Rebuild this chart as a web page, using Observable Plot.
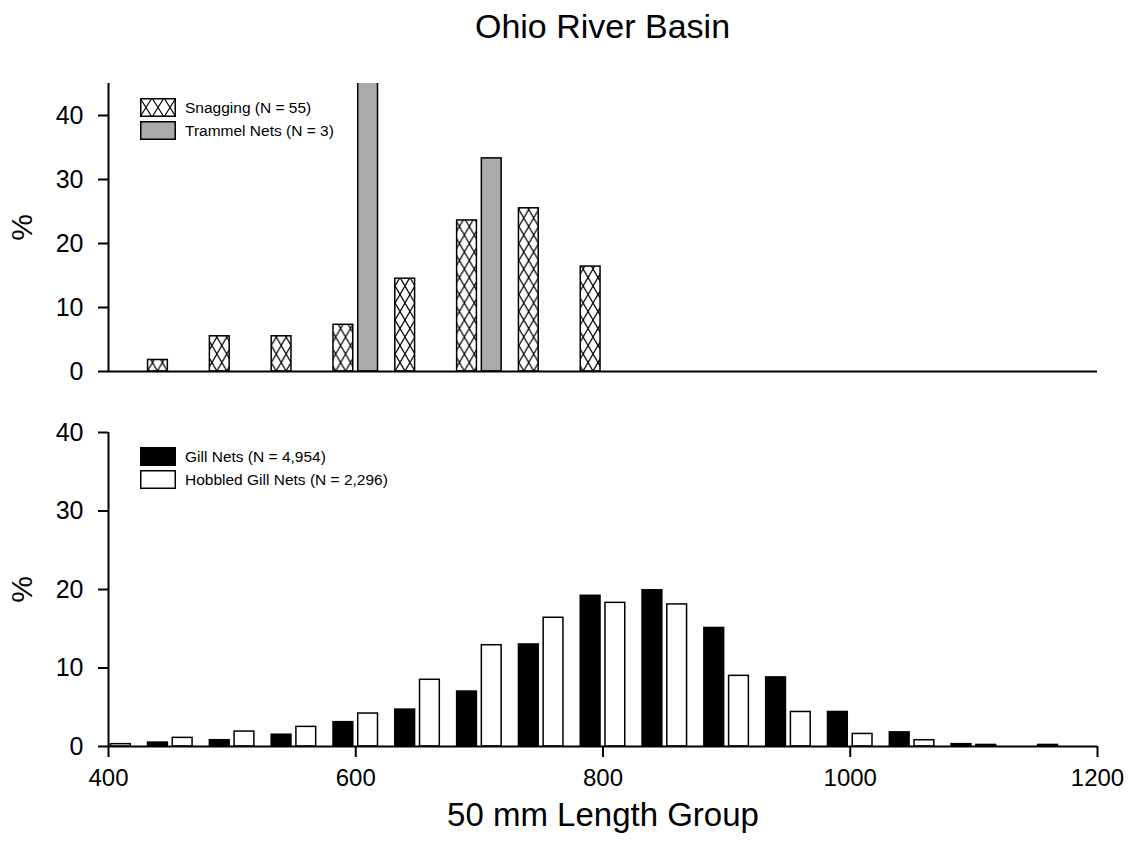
<!DOCTYPE html>
<html>
<head>
<meta charset="utf-8">
<script src="https://cdn.jsdelivr.net/npm/d3@7"></script>
<script src="https://cdn.jsdelivr.net/npm/@observablehq/plot@0.6"></script>
<style>
  html, body { margin: 0; padding: 0; background: white; }
  #wrap { position: relative; width: 1133px; height: 853px; font-family: "Liberation Sans", Arial, sans-serif; color: black; }
  #wrap > svg { position: absolute; left: 0; overflow: visible; }
  #title { position: absolute; left: 108px; width: 989px; top: 9px; text-align: center; font-size: 34px; line-height: 34px; }
  .leg { position: absolute; left: 140px; font-size: 15.5px; line-height: 19px; }
  .leg .row { display: flex; align-items: center; height: 19px; margin-bottom: 4px; }
  .leg .row svg { position: static; margin-right: 9px; }
  g[aria-label="y-axis label"] text { font-size: 30px; }
  g[aria-label="x-axis label"] text { font-size: 33px; }
</style>
</head>
<body>
<div id="wrap">
  <div id="title">Ohio River Basin</div>
</div>
<script>
// ---- data ----
const xDomain = [400, 1200];
const xTicks = [400, 600, 800, 1000, 1200];
const yTicksTop = [0, 10, 20, 30, 40];
const yTicksBottom = [0, 10, 20, 30, 40];

// top panel (percent by 50 mm length group)
const snagGroups = [450, 500, 550, 600, 650, 700, 750, 800];
const snagging = [1.8, 5.5, 5.5, 7.3, 14.5, 23.6, 25.5, 16.4];
const trammelGroups = [600, 700];
const trammel = [66.7, 33.3];

// bottom panel
const groups = [400, 450, 500, 550, 600, 650, 700, 750, 800, 850, 900, 950, 1000, 1050, 1100, 1150, 1200];
const gillNets = [null, 0.5, 0.8, 1.5, 3.1, 4.7, 7.0, 13.0, 19.2, 19.9, 15.1, 8.8, 4.4, 1.8, 0.3, null, null];
const hobbled = [0.3, 1.1, 1.9, 2.5, 4.2, 8.5, 12.9, 16.4, 18.3, 18.1, 9.0, 4.4, 1.6, 0.8, 0.2, 0.2, null];

const legendTop = ["Snagging (N = 55)", "Trammel Nets (N = 3)"];
const legendBottom = ["Gill Nets (N = 4,954)", "Hobbled Gill Nets (N = 2,296)"];

// ---- tables ----
const snagData = snagGroups.map((g, i) => ({g, v: snagging[i]}));
const trammelData = trammelGroups.map((g, i) => ({g, v: trammel[i]}));
const gillData = groups.map((g, i) => ({g, v: gillNets[i]})).filter(d => d.v != null);
const hobData = groups.map((g, i) => ({g, v: hobbled[i]})).filter(d => d.v != null);

const W = 1133;
const font = "'Liberation Sans', Arial, sans-serif";
const wrap = document.getElementById("wrap");
const plain = d => String(d);

// ---- top panel ----
const topChart = Plot.plot({
  width: W, height: 400,
  marginLeft: 108, marginRight: 36, marginTop: 83, marginBottom: 29,
  style: {fontFamily: font, fontSize: "25px", color: "black", background: "transparent"},
  x: {domain: xDomain, axis: null},
  y: {domain: [0, 45]},
  marks: [
    Plot.rect(snagData, {x1: d => d.g - 18, x2: d => d.g - 2, y1: 0, y2: "v", fill: "url(#xhatch)", stroke: "black", strokeWidth: 1.5}),
    Plot.rect(trammelData, {x1: d => d.g + 2, x2: d => d.g + 18, y1: 0, y2: "v", fill: "#aaaaaa", stroke: "black", strokeWidth: 1.5, clip: true}),
    Plot.ruleY([0], {strokeWidth: 2}),
    Plot.ruleX([xDomain[0]], {strokeWidth: 2}),
    Plot.axisY(yTicksTop, {tickSize: 10, tickPadding: 15, fontSize: 25, strokeWidth: 2, tickFormat: plain, label: "%", labelArrow: "none", labelAnchor: "center", labelOffset: 98})
  ]
});
topChart.style.top = "0px";
{
  const px = topChart.scale("x").apply(snagGroups[0] - 18);
  const py = topChart.scale("y").apply(0);
  const ns = "http://www.w3.org/2000/svg";
  const defs = document.createElementNS(ns, "defs");
  defs.innerHTML = `<pattern id="xhatch" patternUnits="userSpaceOnUse" x="${px}" y="${py}" width="9.9" height="17">
    <rect width="9.9" height="17" fill="white"/>
    <path d="M0,0L9.9,17M9.9,0L0,17" stroke="black" stroke-width="1.2" fill="none"/>
  </pattern>`;
  topChart.insertBefore(defs, topChart.firstChild);
}
wrap.appendChild(topChart);

// ---- bottom panel ----
const bottomChart = Plot.plot({
  width: W, height: 453,
  marginLeft: 108, marginRight: 36, marginTop: 32, marginBottom: 107,
  style: {fontFamily: font, fontSize: "25px", color: "black", background: "transparent"},
  x: {domain: xDomain},
  y: {domain: [0, 40]},
  marks: [
    Plot.rect(gillData, {x1: d => d.g - 18, x2: d => d.g - 2, y1: 0, y2: "v", fill: "black", stroke: "black", strokeWidth: 1.5}),
    Plot.rect(hobData, {x1: d => d.g + 2, x2: d => d.g + 18, y1: 0, y2: "v", fill: "white", stroke: "black", strokeWidth: 1.5}),
    Plot.ruleY([0], {strokeWidth: 2}),
    Plot.ruleX([xDomain[0]], {strokeWidth: 2}),
    Plot.axisY(yTicksBottom, {tickSize: 10, tickPadding: 15, fontSize: 25, strokeWidth: 2, tickFormat: plain, label: "%", labelArrow: "none", labelAnchor: "center", labelOffset: 98}),
    Plot.axisX(xTicks, {tickSize: 11, tickPadding: 11, fontSize: 24, strokeWidth: 2, tickFormat: plain, label: "50 mm Length Group", labelArrow: "none", labelAnchor: "center", labelOffset: 79})
  ]
});
bottomChart.style.top = "400px";
wrap.appendChild(bottomChart);

// ---- legends ----
function legend(topPx, labels, swatches) {
  const div = document.createElement("div");
  div.className = "leg";
  div.style.top = topPx + "px";
  labels.forEach((t, i) => {
    const row = document.createElement("div");
    row.className = "row";
    row.innerHTML = swatches[i] + `<span>${t}</span>`;
    div.appendChild(row);
  });
  wrap.appendChild(div);
}
const hatchSwatch = `<svg width="36" height="19" viewBox="0 0 36 19"><defs><pattern id="xhatchLeg" patternUnits="userSpaceOnUse" width="12" height="19"><rect width="12" height="19" fill="white"/><path d="M0,0L12,19M12,0L0,19" stroke="black" stroke-width="1.2"/></pattern></defs><rect x="0.75" y="0.75" width="34.5" height="17.5" fill="url(#xhatchLeg)" stroke="black" stroke-width="1.5"/></svg>`;
const boxSwatch = c => `<svg width="36" height="19" viewBox="0 0 36 19"><rect x="0.75" y="0.75" width="34.5" height="17.5" fill="${c}" stroke="black" stroke-width="1.5"/></svg>`;
legend(98, legendTop, [hatchSwatch, boxSwatch("#aaaaaa")]);
legend(447, legendBottom, [boxSwatch("black"), boxSwatch("white")]);
</script>
</body>
</html>
